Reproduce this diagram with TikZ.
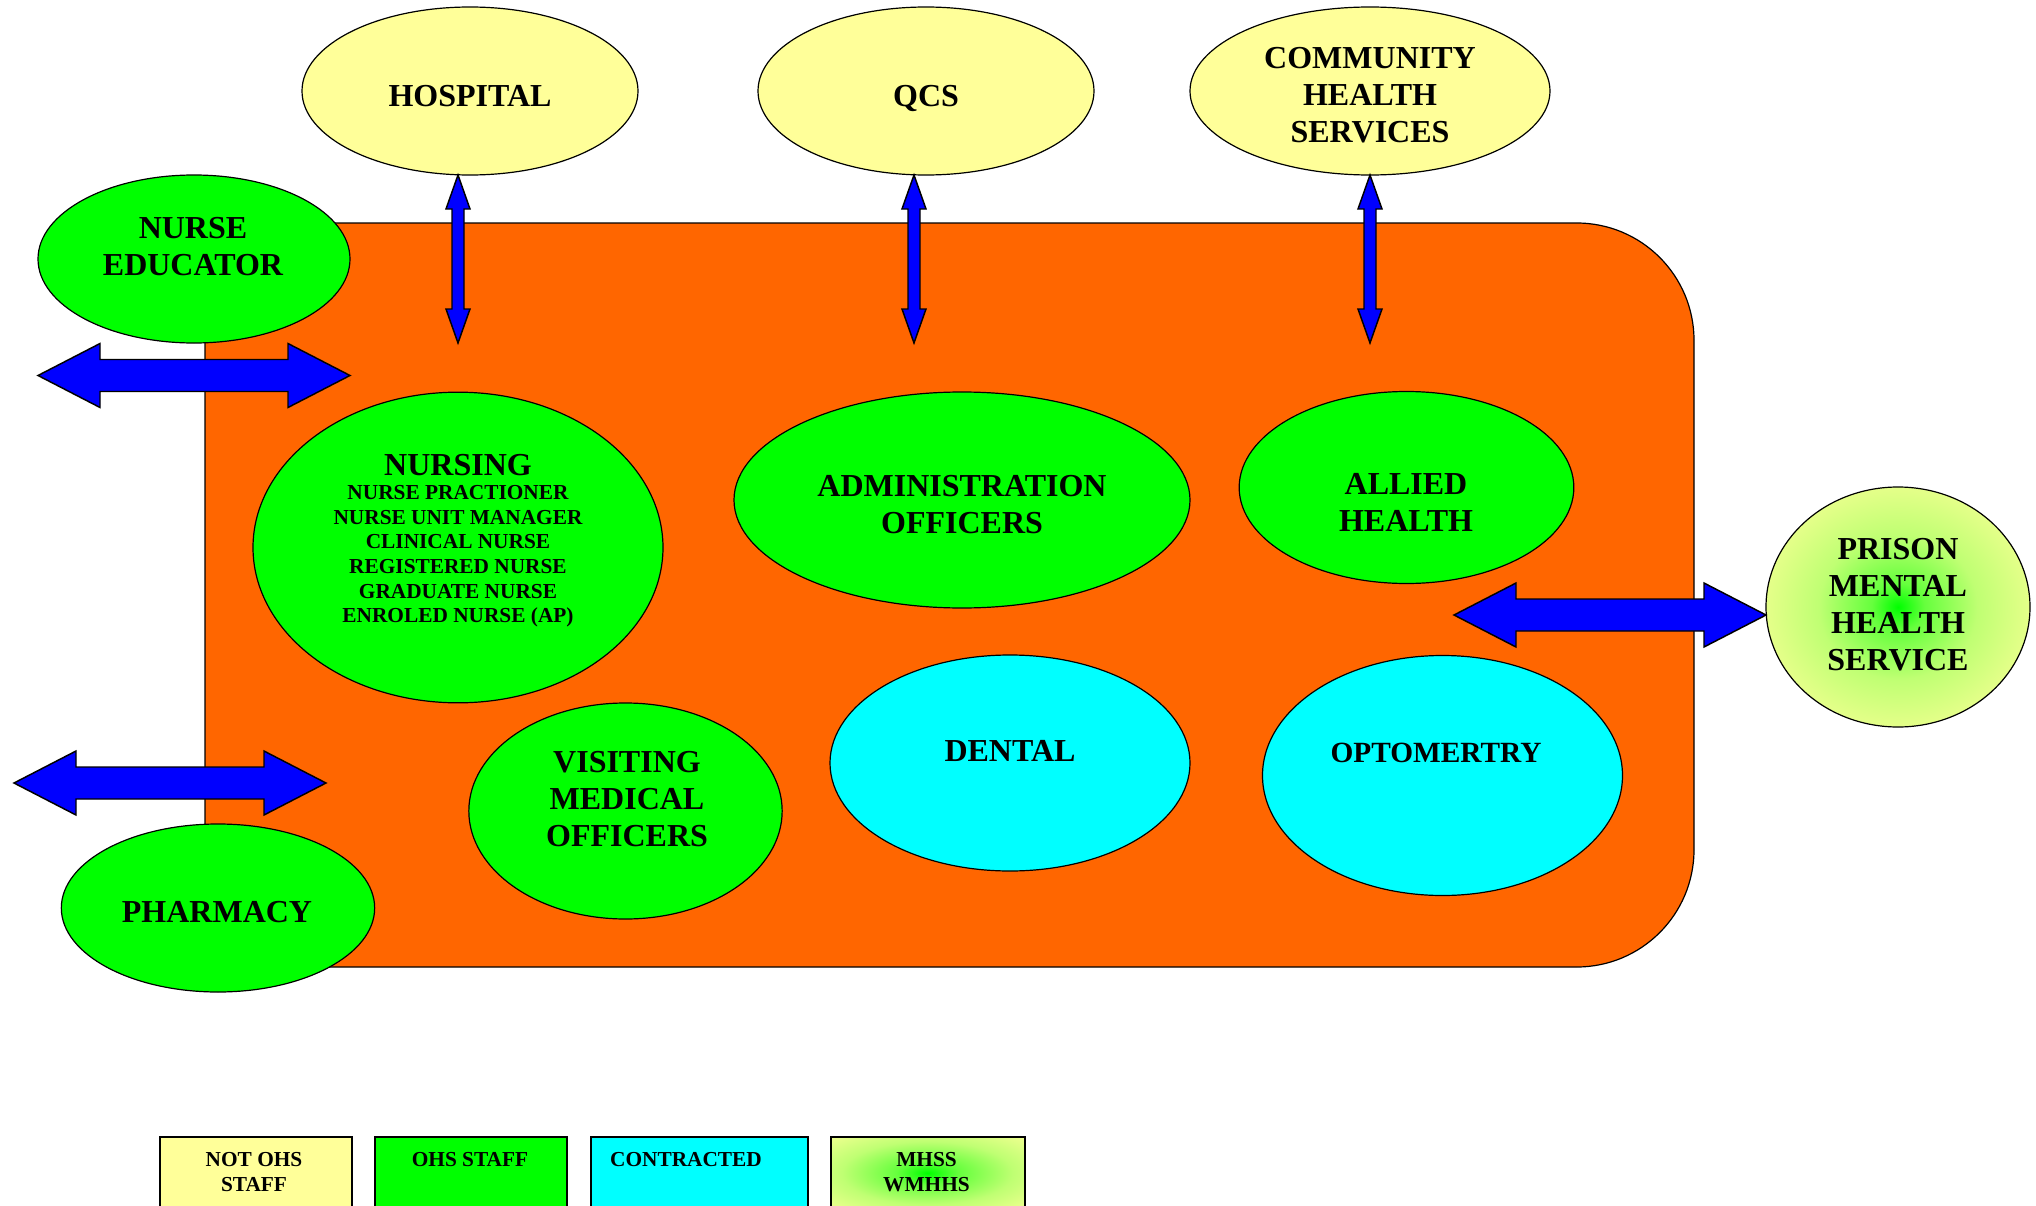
\documentclass[tikz,border=0pt]{standalone}
\usepackage{fontspec}
\setmainfont{Liberation Serif}
\usepackage{xcolor}
\usepackage{tikz}
\usetikzlibrary{shapes.geometric,calc}

\definecolor{boxorange}{RGB}{255,102,0}
\definecolor{staffgreen}{RGB}{0,255,0}
\definecolor{paleyellow}{RGB}{255,255,153}
\definecolor{contractcyan}{RGB}{0,255,255}
\definecolor{linkblue}{RGB}{0,0,255}

\pgfdeclareradialshading{mhssglow}{\pgfpoint{0bp}{0bp}}{%
  color(0bp)=(staffgreen);
  color(5bp)=(staffgreen!60!paleyellow);
  color(15bp)=(staffgreen!25!paleyellow);
  color(32bp)=(paleyellow);
  color(50bp)=(paleyellow)}
\pgfdeclareradialshading{keyglow}{\pgfpoint{0bp}{0bp}}{%
  color(0bp)=(staffgreen);
  color(8bp)=(staffgreen!60!paleyellow);
  color(22bp)=(staffgreen!25!paleyellow);
  color(40bp)=(paleyellow);
  color(50bp)=(paleyellow)}

% fat double arrows, tip to tip
\newcommand{\dblarrowh}[2]{%
  \draw[blockarrow] (#1) -- ($(#1)+(62,-32)$) -- ($(#1)+(62,-16)$) -- ($(#2)+(-62,-16)$) -- ($(#2)+(-62,-32)$) -- (#2)
    -- ($(#2)+(-62,32)$) -- ($(#2)+(-62,16)$) -- ($(#1)+(62,16)$) -- ($(#1)+(62,32)$) -- cycle;}
\newcommand{\dblarrowv}[2]{%
  \draw[blockarrow] (#1) -- ($(#1)+(12,34)$) -- ($(#1)+(6,34)$) -- ($(#2)+(6,-34)$) -- ($(#2)+(12,-34)$) -- (#2)
    -- ($(#2)+(-12,-34)$) -- ($(#2)+(-6,-34)$) -- ($(#1)+(-6,34)$) -- ($(#1)+(-12,34)$) -- cycle;}

\begin{document}
\begin{tikzpicture}[x=0.75pt,y=0.75pt,yscale=-1,xscale=1,
  svc/.style={ellipse, draw=black, line width=0.9pt, inner sep=0pt, outer sep=0pt},
  ohs/.style={svc, fill=staffgreen},
  notohs/.style={svc, fill=paleyellow},
  contracted/.style={svc, fill=contractcyan},
  lbl/.style={align=center, inner sep=0pt, font=\bfseries\fontsize{24}{27.75}\selectfont},
  sublbl/.style={align=center, inner sep=0pt, font=\bfseries\fontsize{16}{18.5}\selectfont},
  keylbl/.style={align=center, inner sep=0pt, font=\bfseries\fontsize{16}{19.3}\selectfont},
  keybox/.style={draw=black, line width=1.5pt},
  blockarrow/.style={draw=black, fill=linkblue, line width=1.1pt, line join=miter}]
\useasboundingbox (0,0) rectangle (2036,1206);
\clip (0,0) rectangle (2036,1206);

%Shape: Rounded Rectangle
\draw[fill=boxorange, line width=0.9pt, rounded corners=88pt] (205,223) rectangle (1694,967);

%Shape: Ellipse
\node[notohs, minimum width=252pt, minimum height=126pt] (hospital) at (470,91) {};
\node[notohs, minimum width=252pt, minimum height=126pt] (qcs) at (926,91) {};
\node[notohs, minimum width=270pt, minimum height=126pt] (community) at (1370,91) {};
\node[ohs, minimum width=234pt, minimum height=126pt] (educator) at (194,259) {};
\node[ohs, minimum width=307.5pt, minimum height=233pt] (nursing) at (458,547.5) {};
\node[ohs, minimum width=342pt, minimum height=162pt] (admin) at (962,500) {};
\node[ohs, minimum width=251pt, minimum height=144pt] (allied) at (1406.5,487.5) {};
\node[svc, shading=mhssglow, minimum width=198pt, minimum height=180pt] (prison) at (1898,607) {};
\node[ohs, minimum width=235pt, minimum height=162pt] (visiting) at (625.5,811) {};
\node[contracted, minimum width=270pt, minimum height=162pt] (dental) at (1010,763) {};
\node[contracted, minimum width=270pt, minimum height=180pt] (optometry) at (1442.5,775.5) {};
\node[ohs, minimum width=235pt, minimum height=126pt] (pharmacy) at (218,908) {};

% Text Node
\node[lbl] (hospital-lbl) at (470,96) {HOSPITAL};
\node[lbl] (qcs-lbl) at (926,99) {QCS};
\node[lbl] (community-lbl) at (1370,95) {COMMUNITY\\HEALTH\\SERVICES};
\node[lbl] (educator-lbl) at (193,246.5) {NURSE\\EDUCATOR};
\node[lbl] (nursing-lbl) at (458,465) {NURSING};
\node[sublbl] (nursing-list) at (458,556.5) {NURSE PRACTIONER\\NURSE UNIT MANAGER\\CLINICAL NURSE\\REGISTERED NURSE\\GRADUATE NURSE\\ENROLED NURSE (AP)};
\node[lbl] (admin-lbl) at (962,505) {ADMINISTRATION\\OFFICERS};
\node[lbl] (allied-lbl) at (1406,502) {ALLIED\\HEALTH};
\node[lbl] (prison-lbl) at (1898,604.5) {PRISON\\MENTAL\\HEALTH\\SERVICE};
\node[lbl] (visiting-lbl) at (627,799) {VISITING\\MEDICAL\\OFFICERS};
\node[lbl] (dental-lbl) at (1010,751) {DENTAL};
\node[lbl, font=\bfseries\fontsize{22}{26}\selectfont] (optometry-lbl) at (1436,753) {OPTOMERTRY};
\node[lbl] (pharmacy-lbl) at (217,912.5) {PHARMACY};

%Shape: Double Arrow
\coordinate (hosp-in) at (458,343);
\coordinate (qcs-in) at (914,343);
\coordinate (comm-in) at (1370,343);
\coordinate (hosp-top) at (hospital.south -| hosp-in);
\coordinate (qcs-top) at (qcs.south -| qcs-in);
\coordinate (comm-top) at (community.south -| comm-in);
\dblarrowv{hosp-top}{hosp-in}
\dblarrowv{qcs-top}{qcs-in}
\dblarrowv{comm-top}{comm-in}

\coordinate (edu-l) at (38,375.5);
\coordinate (edu-r) at (350,375.5);
\dblarrowh{edu-l}{edu-r}
\coordinate (pharm-l) at (14,783);
\coordinate (pharm-r) at (326,783);
\dblarrowh{pharm-l}{pharm-r}
\coordinate (prison-in) at (1454,615);
\coordinate (prison-out) at (prison.west |- prison-in);
\dblarrowh{prison-in}{prison-out}

%Shape: Legend
\node[keybox, fill=paleyellow, minimum width=144pt, minimum height=54pt, anchor=north west] (key-notohs) at (158.5,1136) {};
\node[keybox, fill=staffgreen, minimum width=144.5pt, minimum height=54pt, anchor=north west] (key-ohs) at (373.5,1136) {};
\node[keybox, fill=contractcyan, minimum width=163pt, minimum height=54pt, anchor=north west] (key-contracted) at (589.5,1136) {};
\node[keybox, shading=keyglow, minimum width=145.5pt, minimum height=54pt, anchor=north west] (key-mhss) at (829.5,1136) {};

% Text Node
\node[keylbl] (key-notohs-lbl) at (254,1172) {NOT OHS\\STAFF};
\node[keylbl] (key-ohs-lbl) at (470,1160) {OHS STAFF};
\node[keylbl] (key-contracted-lbl) at (686,1160) {CONTRACTED};
\node[keylbl] (key-mhss-lbl) at (926.5,1172) {MHSS\\WMHHS};
\end{tikzpicture}
\end{document}
